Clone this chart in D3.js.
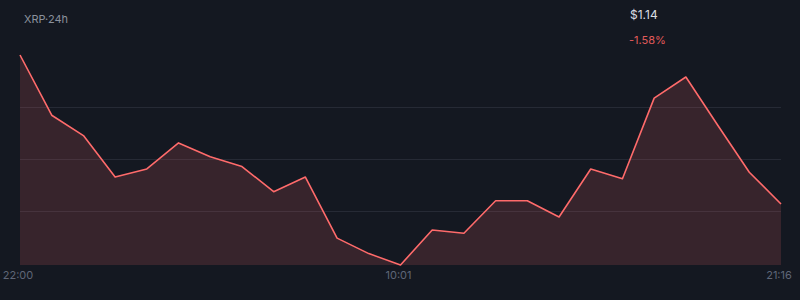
<!DOCTYPE html>
<html>
<head>
  <meta charset="utf-8">
  <script src="https://cdn.jsdelivr.net/npm/d3@7"></script>
  <style>
    html, body { margin: 0; padding: 0; background: #141821; }
    svg { display: block; font-family: Inter, "Noto Sans", sans-serif; }
  </style>
</head>
<body>
  <script>
    // price samples over the last 24h
    var prices = [1.1583, 1.1509, 1.1484, 1.1433, 1.1443, 1.1475, 1.1458, 1.1446,
                  1.1415, 1.1433, 1.1358, 1.1339, 1.1325, 1.1368, 1.1364, 1.1404,
                  1.1404, 1.1384, 1.1443, 1.1431, 1.1530, 1.1556, 1.1497, 1.1439, 1.1400];
    // x axis labels: index into prices -> label
    var tickIndex = [0, 12, 24];
    var tickLabels = ["22:00", "10:01", "21:16"];
    var gridValues = [1.1519, 1.1455, 1.1391];
    var title = "XRP\u00b724h";
    var lastPrice = "$1.14";
    var change = "-1.58%";

    var width = 800, height = 300;
    var margin = {top: 55, right: 19, bottom: 35, left: 20};

    var svg = d3.select("body").append("svg")
      .attr("width", width)
      .attr("height", height);

    var x = d3.scaleLinear()
      .domain([0, prices.length - 1])
      .range([margin.left, width - margin.right]);

    var y = d3.scaleLinear()
      .domain(d3.extent(prices))
      .range([height - margin.bottom, margin.top]);

    // grid lines
    svg.append("g").selectAll("line")
      .data(gridValues)
      .enter().append("line")
      .attr("x1", margin.left)
      .attr("x2", width - margin.right)
      .attr("y1", function (d) { return Math.round(y(d)) + 0.5; })
      .attr("y2", function (d) { return Math.round(y(d)) + 0.5; })
      .attr("stroke", "#262a35")
      .attr("stroke-width", 1);

    var area = d3.area()
      .x(function (d, i) { return x(i); })
      .y0(height - margin.bottom)
      .y1(function (d) { return y(d); });

    var line = d3.line()
      .x(function (d, i) { return x(i); })
      .y(function (d) { return y(d); });

    svg.append("path")
      .datum(prices)
      .attr("d", area)
      .attr("fill", "#ff6b6b")
      .attr("fill-opacity", 0.15);

    svg.append("path")
      .datum(prices)
      .attr("d", line)
      .attr("fill", "none")
      .attr("stroke", "#ff6b6b")
      .attr("stroke-width", 1.6)
      .attr("stroke-linejoin", "round");

    // time labels
    svg.append("g").selectAll("text")
      .data(tickIndex)
      .enter().append("text")
      .attr("x", function (d) { return x(d); })
      .attr("dx", -2)
      .attr("y", 279)
      .attr("text-anchor", "middle")
      .attr("fill", "#5f6677")
      .style("font-size", "11px")
      .text(function (d, i) { return tickLabels[i]; });

    svg.append("text")
      .attr("x", 24).attr("y", 23)
      .attr("fill", "#8a909c")
      .style("font-size", "11px")
      .text(title);

    svg.append("text")
      .attr("x", 630).attr("y", 19)
      .attr("fill", "#d9dce2")
      .style("font-size", "12px")
      .text(lastPrice);

    svg.append("text")
      .attr("x", 629).attr("y", 44)
      .attr("fill", "#e05a5a")
      .style("font-size", "11px")
      .text(change);
  </script>
</body>
</html>
